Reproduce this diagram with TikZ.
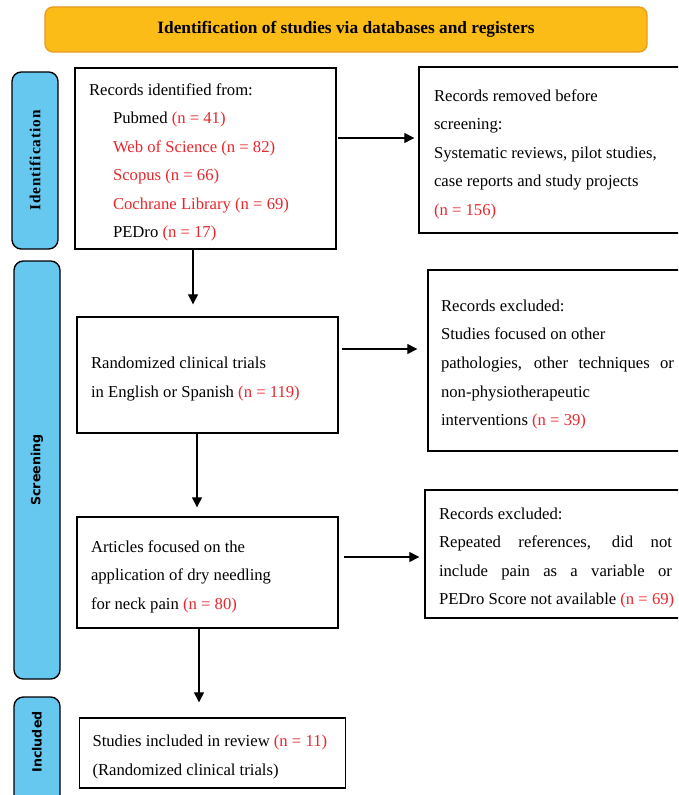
\documentclass[tikz,border=0pt]{standalone}
\usepackage{fontspec}
\setmainfont{Liberation Serif}
\newfontfamily\labfont{DejaVu Sans}
\usetikzlibrary{positioning,arrows.meta,calc}
\definecolor{hdrfill}{HTML}{FCBC17}
\definecolor{hdrline}{HTML}{E99A1F}
\definecolor{labfill}{HTML}{66C7EF}
\definecolor{nred}{HTML}{E8262C}
\newcommand{\nn}[1]{\textcolor{nred}{(n~=~#1)}}

\begin{document}
\begin{tikzpicture}[
		x=0.75pt,y=-0.75pt,
		font=\fontsize{12.5}{21.4}\selectfont,
		box/.style={draw,line width=1pt,rectangle,align=left,text width=174.75pt,inner xsep=10.5pt,inner ysep=0pt,
			execute at begin node={\spaceskip=0pt\xspaceskip=0pt},
			execute at end node={\endgraf\kern-6pt}},
		hdr/.style={draw=hdrline,line width=1pt,fill=hdrfill,rounded corners=6pt,minimum width=451.5pt,minimum height=33.75pt,font=\fontsize{13}{15}\selectfont\bfseries},
		lab/.style={draw,line width=1pt,fill=labfill,rounded corners=7pt,rotate=90,minimum height=34.5pt,font=\labfont\fontsize{9.5}{11}\selectfont\bfseries},
		arr/.style={-{Triangle[length=7.5pt,width=7.5pt]},line width=0.8pt}
		]
		\useasboundingbox (0,0) rectangle (678,795);
		\clip (0,0) rectangle (678,795);

		\node[hdr] (hdr) at (346,29.5) {Identification of studies via databases and registers};

		\node[lab,minimum width=132.75pt,font=\fontsize{11.5}{13}\selectfont\bfseries\addfontfeature{LetterSpace=6}] (idlab) at (35,160.5) {Identification};
		\node[lab,minimum width=313.5pt] (scrlab) at (37,470) {Screening};
		\node[lab,minimum width=97.5pt] (inclab) at (37,762) {\hspace*{30pt}Included};

		\node[box,minimum height=135.75pt] (recid) at (205.5,158.5) {Records identified from:\\
			\hspace*{18pt}Pubmed \nn{41}\\
			\hspace*{18pt}\textcolor{nred}{Web of Science (n~=~82)}\\
			\hspace*{18pt}\textcolor{nred}{Scopus (n~=~66)}\\
			\hspace*{18pt}\textcolor{nred}{Cochrane Library (n~=~69)}\\
			\hspace*{18pt}PEDro \nn{17}};
		\node[box,text width=188.25pt,inner xsep=11.25pt,minimum height=124.5pt] (recrem) at (559.5,150) {Records removed before\\
			screening:\\
			Systematic reviews, pilot studies,\\
			case reports and study projects\\
			\nn{156}};
		\node[box,minimum height=87pt] (rct) at (207.5,375) {Randomized clinical trials\\
			in English or Spanish \nn{119}};
		\node[box,inner xsep=9.75pt,minimum height=135.75pt] (exc1) at (557.5,360.5) {Records excluded:\\
			Studies focused on other\\
			\makebox[\hsize][s]{pathologies, other techniques or}\\
			non-physiotherapeutic\\
			interventions \nn{39}};
		\node[box,minimum height=83.25pt] (art) at (207.5,572.5) {Articles focused on the\\
			application of dry needling\\
			for neck pain \nn{80}};
		\node[box,minimum height=96pt] (exc2) at (555.5,554) {Records excluded:\\
			\makebox[\hsize][s]{Repeated references, did not}\\
			\makebox[\hsize][s]{include pain as a variable or}\\
			\mbox{PEDro Score not available \nn{69}}};
		\node[box,text width=180pt,inner xsep=9.75pt,minimum height=52.5pt] (incl) at (212.5,753) {\mbox{Studies included in review \nn{11}}\\
			(Randomized clinical trials)};

		% arrow rows and columns
		\coordinate (v1) at (193,0);
		\coordinate (v2) at (197,0);
		\coordinate (v3) at (199,0);
		\coordinate (h1) at (0,138);
		\coordinate (h2) at (0,349);
		\coordinate (h3) at (0,557);

		\draw[arr,shorten <=1pt,shorten >=3pt] (recid.east |- h1) -- (recrem.west |- h1);
		\draw[arr,shorten >=9pt] (recid.south -| v1) -- (rct.north -| v1);
		\draw[arr,shorten <=2.25pt,shorten >=7.5pt] (rct.east |- h2) -- (exc1.west |- h2);
		\draw[arr,shorten >=6.75pt] (rct.south -| v2) -- (art.north -| v2);
		\draw[arr,shorten <=3.75pt,shorten >=3.75pt] (art.east |- h3) -- (exc2.west |- h3);
		\draw[arr,shorten >=11.25pt] (art.south -| v3) -- (incl.north -| v3);
	\end{tikzpicture}
\end{document}
